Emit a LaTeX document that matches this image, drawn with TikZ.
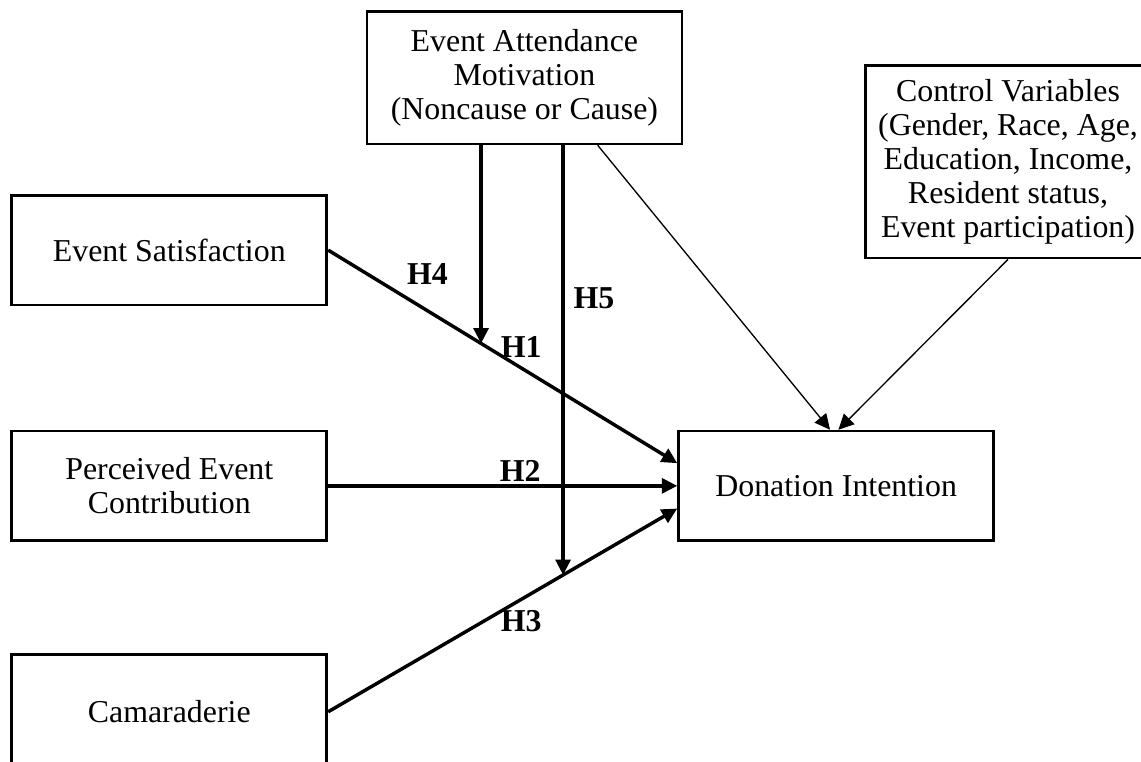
\documentclass[tikz,border=0pt]{standalone}
\usepackage{fontspec}
\setmainfont{Liberation Serif}
\usetikzlibrary{positioning,calc}
\usetikzlibrary{arrows.meta}
\tikzset{
  vb/.style={rectangle, minimum width=4.17cm, minimum height=1.45cm, text centered, align=center, draw=black, line width=1pt, font=\fontsize{12}{12.8}\selectfont},
  hl/.style={font=\fontsize{12}{12.8}\selectfont\bfseries},
  tl/.style={line width=0.5pt},
  >={Triangle[length=5.8pt,width=5.6pt]},
  node distance=4.62cm
}

\begin{document}
\begin{tikzpicture}[line width=1.3pt]
	\useasboundingbox (0,0) rectangle (15.1,-10.08);
	\node[vb] (es) at (2.24,-3.31) {Event Satisfaction};
	\node[vb] (pec) at (2.24,-6.43) {Perceived Event\\Contribution};
	\node[vb, minimum height=1.52cm] (cam) at (2.24,-9.42) {Camaraderie};
	\node[vb, right=of pec] (di) {Donation Intention};
	\node[vb, minimum height=1.75cm] (eam) at (6.94,-1.03) {Event Attendance\\Motivation\\(Noncause or Cause)};
	\node[vb, minimum width=3.78cm, minimum height=2.55cm] (cv) at (13.34,-2.14) {Control Variables\\(Gender, Race, Age,\\Education, Income,\\Resident status,\\Event participation)};
	%
	\draw[->] (es.east) -- coordinate[pos=0.438] (h4end) node[hl, pos=0.553, above] {H1} ($(di.west)+(0,0.3)$);
	\draw[->] (pec.east) -- node[hl, pos=0.55, above, inner sep=1pt] {H2} (di.west);
	\draw[->] (cam.east) -- coordinate[pos=0.673] (h5end) node[hl, pos=0.553, below] {H3} ($(di.west)+(0,-0.3)$);
	\draw[->] (eam.south -| h4end) -- node[hl, pos=0.65, left=0.3cm] {H4} (h4end);
	\draw[->] (eam.south -| h5end) -- node[hl, pos=0.357, right] {H5} (h5end);
	%
	\draw[tl,->] ($(eam.south)+(0.97,0)$) -- ($(di.north)+(-0.08,0)$);
	\draw[tl,->] (cv.south) -- ($(di.north)+(0.03,0)$);
\end{tikzpicture}
\end{document}
